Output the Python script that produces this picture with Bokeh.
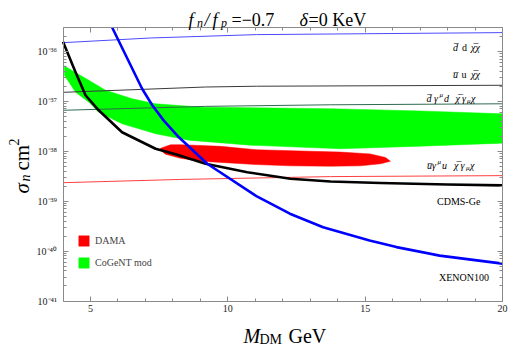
import math
from bokeh.plotting import figure
from bokeh.models import (Range1d, FixedTicker, LinearAxis, LogAxis, Label,
                          Legend, LegendItem)
from bokeh.core.properties import value
from bokeh.embed import file_html
from bokeh.resources import INLINE

# ---------------- data (M_DM in GeV, sigma_n in cm^2) ----------------
cdms_mass = [4.0, 4.45, 4.82, 5.30, 6.15, 7.37, 8.10, 9.19, 10.71, 12.28, 13.74, 15.56, 17.99, 20.0]
cdms_sigma = [1.55e-36, 3.9e-37, 1.32e-37, 6.6e-38, 2.4e-38, 1.12e-38, 8.7e-39, 5.6e-39,
              3.8e-39, 2.8e-39, 2.48e-39, 2.3e-39, 2.16e-39, 2.07e-39]

xenon_mass = [5.79, 6.88, 7.25, 7.67, 8.22, 9.25, 11.04, 12.26, 13.47, 15.16, 16.14, 17.71, 20.0]
xenon_sigma = [3.0e-36, 1.78e-37, 8.3e-38, 4.1e-38, 1.9e-38, 5.6e-39, 1.26e-39,
               5.6e-40, 3.0e-40, 1.62e-40, 1.2e-40, 8.1e-41, 5.6e-41]

cogent_upper_mass = [4.05, 4.94, 5.55, 6.52, 7.37, 9.07, 13.74, 17.0, 20.0]
cogent_upper_sigma = [5.1e-37, 2.63e-37, 1.66e-37, 1.12e-37, 8.9e-38, 7.6e-38, 7.1e-38, 6.4e-38, 5.6e-38]
cogent_lower_mass = [4.05, 4.46, 4.94, 5.30, 6.15, 7.37, 8.58, 10.83, 14.11, 17.0, 20.0]
cogent_lower_sigma = [3.3e-37, 1.51e-37, 9.6e-38, 6.0e-38, 3.55e-38, 2.24e-38, 1.66e-38,
                      1.32e-38, 1.12e-38, 1.26e-38, 1.45e-38]

dama_upper_mass = [7.55, 7.91, 8.28, 9.73, 11.04, 12.64, 14.10, 15.19, 15.74, 15.92]
dama_upper_sigma = [1.14e-38, 1.34e-38, 1.35e-38, 1.25e-38, 1.07e-38, 1.01e-38, 9.6e-39,
                    8.8e-39, 7.5e-39, 6.3e-39]
dama_lower_mass = [7.55, 7.73, 8.28, 9.0, 11.04, 12.28, 13.74, 14.83, 15.56, 15.92]
dama_lower_sigma = [1.05e-38, 8.7e-39, 7.2e-39, 6.3e-39, 5.4e-39, 5.1e-39, 5.0e-39, 5.1e-39,
                    5.6e-39, 6.3e-39]

dd_mass = [4.0, 7.19, 11.04, 20.0]
dd_sigma = [1.49e-36, 1.85e-36, 2.16e-36, 2.37e-36]
uu_mass = [4.0, 9.19, 11.04, 20.0]
uu_sigma = [1.51e-37, 1.93e-37, 2.0e-37, 2.09e-37]
dvd_mass = [4.0, 9.19, 13.74, 20.0]
dvd_sigma = [6.6e-38, 7.9e-38, 8.5e-38, 8.9e-38]
uvu_mass = [4.0, 8.28, 13.74, 20.0]
uvu_sigma = [2.34e-39, 2.72e-39, 3.1e-39, 3.24e-39]

x_lo, x_hi = 4.0, 20.0
y_lo, y_hi = 1e-41, 3.0e-36
xticks = [5, 10, 15, 20]
xtick_labels = ["5", "10", "15", "20"]
yticks = [1e-41, 1e-40, 1e-39, 1e-38, 1e-37, 1e-36]
ytick_labels = ["10⁻⁴¹", "10⁻⁴⁰", "10⁻³⁹", "10⁻³⁸", "10⁻³⁷", "10⁻³⁶"]

# ---------------- layout ----------------
W, H = 512, 346
BOX_L, BOX_R, BOX_T, BOX_B = 62.5, 502.0, 27.0, 300.5   # plot box in pixels
FONT = "Liberation Serif"
AXC = "#8a8a8a"

# the frame covers the whole canvas; the plot box is drawn by axes fixed at the data limits
ux = (x_hi - x_lo) / (BOX_R - BOX_L)
ly_lo, ly_hi = math.log10(y_lo), math.log10(y_hi)
uy = (ly_hi - ly_lo) / (BOX_B - BOX_T)
x0 = x_lo - BOX_L * ux
ltop = ly_hi + BOX_T * uy
xr = Range1d(x0, x_hi + (W - BOX_R) * ux)
yr_ = Range1d(10 ** (ly_lo - (H - BOX_B) * uy), 10 ** ltop)

p = figure(width=W, height=H, output_backend="svg", toolbar_location=None,
           x_range=xr, y_range=yr_, y_axis_type="log",
           x_axis_location=None, y_axis_location=None,
           min_border=0, background_fill_color="white", border_fill_color="white")
p.grid.visible = False
p.outline_line_color = None

xminor = [v for v in range(5, 20) if v not in xticks]
yminor = [k * 10.0 ** e for e in range(-41, -36) for k in range(2, 10)] + [2e-36, 3e-36]


def style_axis(ax, labels, standoff):
    ax.axis_line_color = AXC
    ax.major_tick_line_color = AXC
    ax.minor_tick_line_color = AXC
    ax.major_tick_in = 5
    ax.major_tick_out = 0
    ax.minor_tick_in = 3
    ax.minor_tick_out = 0
    ax.axis_label = None
    ax.major_label_standoff = standoff
    ax.major_label_text_font = FONT
    ax.major_label_text_font_size = "10px"
    ax.major_label_text_color = "#222222"
    ax.major_label_overrides = labels


xb = LinearAxis(ticker=FixedTicker(ticks=xticks, minor_ticks=xminor),
                fixed_location=y_lo, bounds=(x_lo, x_hi))
style_axis(xb, dict(zip(xticks, xtick_labels)), 4)
p.add_layout(xb, "below")

xt = LinearAxis(ticker=FixedTicker(ticks=xticks, minor_ticks=xminor),
                fixed_location=y_hi, bounds=(x_lo, x_hi))
style_axis(xt, {t: "" for t in xticks}, 0)
p.add_layout(xt, "above")

yl = LogAxis(ticker=FixedTicker(ticks=yticks, minor_ticks=yminor),
             fixed_location=x_lo, bounds=(y_lo, y_hi))
style_axis(yl, dict(zip(yticks, ytick_labels)), 6)
p.add_layout(yl, "left")

yr = LogAxis(ticker=FixedTicker(ticks=yticks, minor_ticks=yminor),
             fixed_location=x_hi, bounds=(y_lo, y_hi))
style_axis(yr, {t: "" for t in yticks}, 0)
p.add_layout(yr, "right")

# ---------------- marks ----------------
green = p.patch(cogent_upper_mass + cogent_lower_mass[::-1],
                cogent_upper_sigma + cogent_lower_sigma[::-1],
                fill_color="#00ff00", line_color="#00ff00", line_width=0.5)
red = p.patch(dama_upper_mass + dama_lower_mass[::-1],
              dama_upper_sigma + dama_lower_sigma[::-1],
              fill_color="#ff0000", line_color="#ff0000", line_width=0.5)

p.line(dd_mass, dd_sigma, line_color="#4a4aff", line_width=1)
p.line(uu_mass, uu_sigma, line_color="#3a3a3a", line_width=1)
p.line(dvd_mass, dvd_sigma, line_color="#2f6a50", line_width=1)
p.line(uvu_mass, uvu_sigma, line_color="#ff4040", line_width=1)

p.line(cdms_mass, cdms_sigma, line_color="black", line_width=2.6, line_join="round")
p.line(xenon_mass, xenon_sigma, line_color="#0000ff", line_width=2.6, line_join="round")

legend = Legend(items=[LegendItem(label="DAMA", renderers=[red]),
                       LegendItem(label="CoGeNT mod", renderers=[green])],
                location=(77, 77), glyph_width=13, glyph_height=13, label_height=13,
                spacing=9, padding=0, margin=0, label_standoff=5,
                label_text_font=FONT, label_text_font_size="10px",
                background_fill_alpha=0, border_line_alpha=0)
p.add_layout(legend)


# ---------------- texts ----------------
def put(text, px, py, size, italic=False, align="left", color="black"):
    p.add_layout(Label(x=px, y=H - py, x_units="screen", y_units="screen", text=text,
                       text_font=FONT, text_font_size=f"{size}px",
                       text_font_style="italic" if italic else "normal",
                       text_align=align, text_baseline="alphabetic",
                       text_color=color))


def put_rot(text, px, py, size, italic=False):
    # vertical text (reading upward) placed via the plot's scales
    p.text(x=[x0 + px * ux], y=[10 ** (ltop - py * uy)], text=[text],
           angle=math.pi / 2, text_font=value(FONT), text_font_size=value(f"{size}px"),
           text_font_style="italic" if italic else "normal",
           text_align="left", text_baseline="alphabetic", text_color="black")


# title
put("f", 188, 19, 18, True)
put("n", 196.5, 22.5, 12, True)
put("/", 204, 19, 18, True)
put("f", 212, 19, 18, True)
put("p", 220.5, 22.5, 12, True)
put("=−0.7", 231, 19, 18)
put("δ", 299, 19, 18, True)
put("=0 KeV", 308, 19, 18)

# x axis label
put("M", 243, 335, 20, True)
put("DM", 259, 339, 14)
put("GeV", 288, 335, 20)

# y axis label (rotated)
put_rot("σ", 21, 193, 21, True)
put_rot("n", 25, 181, 14, True)
put_rot("cm", 21, 170, 21)
put_rot("2", 13, 145, 14)

# curve labels
put("d̅", 452.5, 47, 10, True)
put("d", 461.5, 47, 10)
put("χ̅χ", 470.5, 47, 10, True)

put("u̅", 452.5, 74, 10, True)
put("u", 461, 74, 10)
put("χ̅χ", 470.5, 74, 10, True)

put("d̅", 426, 98, 10, True)
put("γ", 433.5, 98, 10, True)
put("μ", 439, 94, 7, True)
put("d", 443.5, 98, 10, True)
put("χ̅", 455, 98, 10, True)
put("γ", 461.5, 98, 10, True)
put("μ", 466.5, 100, 7, True)
put("χ", 470.5, 98, 10, True)

put("u̅", 426.5, 165, 10, True)
put("γ", 431.5, 165, 10, True)
put("μ", 437, 161, 7, True)
put("u", 441.5, 165, 10, True)
put("χ̅", 453.5, 165, 10, True)
put("γ", 460, 165, 10, True)
put("μ", 465.5, 167, 7, True)
put("χ", 469.5, 165, 10, True)

put("CDMS-Ge", 436.5, 201, 10)
put("XENON100", 438.5, 276.5, 10)

open("out.html", "w").write(file_html(p, INLINE))
